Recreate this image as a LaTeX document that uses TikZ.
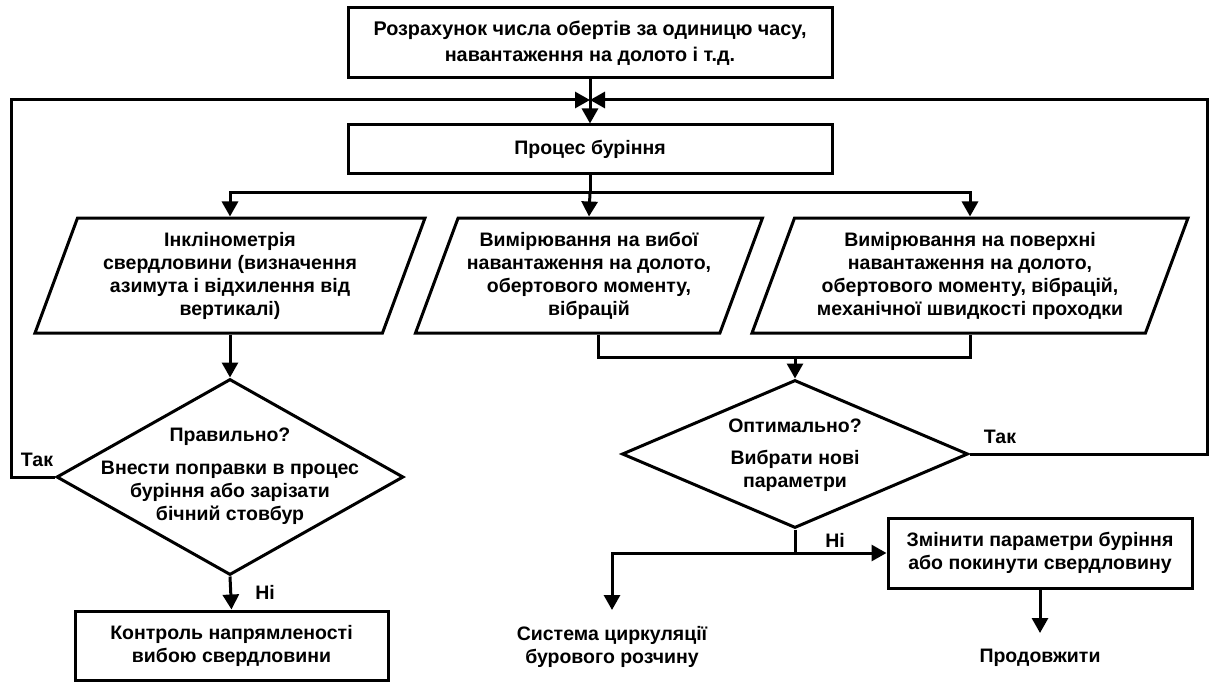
\documentclass[tikz,border=0pt]{standalone}
\usepackage{fontspec}
\setmainfont{Liberation Sans}
\usetikzlibrary{shapes.geometric,arrows.meta}

\tikzset{
  txt/.style={font=\bfseries\fontsize{19.5}{23}\selectfont, align=center, inner sep=0pt},
  line/.style={line width=3pt, line join=miter},
  arr/.style={line, -{Triangle[width=16pt,length=15pt]}},
  procbox/.style={txt, draw, line width=3pt, rectangle},
  iobox/.style={txt, draw, line width=3pt, trapezium, trapezium left angle=64,
    trapezium right angle=116, trapezium stretches body=true},
  decision/.style={draw, line width=3pt, diamond, inner sep=0pt},
}

\begin{document}
\begin{tikzpicture}[x=1pt,y=-1pt]
\useasboundingbox (0,0) rectangle (1215,682);

% process boxes
\node[procbox, minimum width=484, minimum height=70,
      font=\bfseries\fontsize{19.8}{26}\selectfont] (calc) at (590,43)
  {Розрахунок числа обертів за одиницю часу,\\навантаження на долото і т.д.};
\node[procbox, minimum width=484, minimum height=48] (drill) at (590,149) {Процес буріння};

% measurement blocks
\node[iobox, minimum width=390, minimum height=115] (incl) at (230,275.5)
  {Інклінометрія\\свердловини (визначення\\азимута і відхилення від\\вертикалі)};
\node[iobox, minimum width=347, minimum height=115] (bottom) at (589,275.5)
  {Вимірювання на вибої\\навантаження на долото,\\обертового моменту,\\вібрацій};
\node[iobox, minimum width=436, minimum height=115] (surf) at (970,275.5)
  {Вимірювання на поверхні\\навантаження на долото,\\обертового моменту, вібрацій,\\механічної швидкості проходки};

% decisions
\node[decision, minimum width=347, minimum height=196] (ok) at (230,477) {};
\node[txt] (oktext) at (230,476)
  {Правильно?\\[10pt]Внести поправки в процес\\буріння або зарізати\\бічний стовбур};
\node[decision, minimum width=346, minimum height=148] (opt) at (795,454) {};
\node[txt] (opttext) at (795,455) {Оптимально?\\[9pt]Вибрати нові\\параметри};

% results
\node[procbox, minimum width=313, minimum height=69] (ctrl) at (231.5,645.5)
  {Контроль напрямленості\\вибою свердловини};
\node[procbox, minimum width=304, minimum height=70] (chg) at (1040,553)
  {Змінити параметри буріння\\або покинути свердловину};
\node[txt] (circ) at (612,647) {Система циркуляції\\бурового розчину};
\node[txt] (cont) at (1040,658) {Продовжити};

% branch labels
\node[txt] (yesL) at (37,460) {Так};
\node[txt] (yesR) at (1000,437) {Так};
\node[txt] (noL) at (265,592) {Ні};
\node[txt] (noR) at (835,540) {Ні};

% junction points
\coordinate (merge) at (590,100);
\coordinate (lc) at (11,100);
\coordinate (rc) at (1207,100);
\coordinate (br) at (590,192);
\coordinate (join) at (795,357);
\coordinate (nsplit) at (795,553);
\coordinate (circtop) at (612,610);
\coordinate (conttop) at (1040,633);

% connectors
\draw[arr] (calc.south) -- (drill.north);
\draw[line] (drill.south) -- (br);
\draw[arr] (br) -| (incl.center |- incl.north);
\draw[arr] (br) -- (bottom.center |- bottom.north);
\draw[arr] (br) -| (surf.center |- surf.north);

\draw[arr] (incl.center |- incl.south) -- (ok.north);
\draw[line] ([xshift=9pt]bottom.center |- bottom.south) |- (join) -| (surf.center |- surf.south);
\draw[arr] (join) -- (opt.north);

\draw[arr] (ok.west) -| (lc) -- (merge);
\draw[arr] (opt.east) -| (rc) -- (merge);
\draw[arr] (ok.south) -- (ctrl.north);

\draw[line] (opt.south) -- (nsplit);
\draw[arr] (nsplit) -- (chg.west);
\draw[arr] (nsplit) -| (circtop);
\draw[arr] (chg.south) -- (conttop);
\end{tikzpicture}
\end{document}
